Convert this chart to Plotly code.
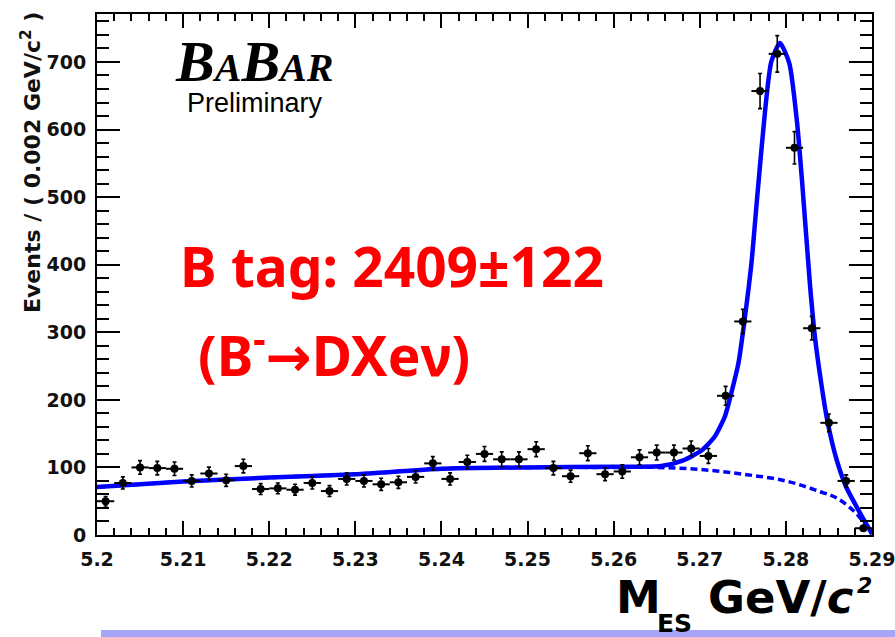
import plotly.graph_objects as go

# ---------------- data ----------------
bin_centers = [5.201, 5.203, 5.205, 5.207, 5.209, 5.211, 5.213, 5.215, 5.217, 5.219,
               5.221, 5.223, 5.225, 5.227, 5.229, 5.231, 5.233, 5.235, 5.237, 5.239,
               5.241, 5.243, 5.245, 5.247, 5.249, 5.251, 5.253, 5.255, 5.257, 5.259,
               5.261, 5.263, 5.265, 5.267, 5.269, 5.271, 5.273, 5.275, 5.277, 5.279,
               5.281, 5.283, 5.285, 5.287, 5.289]
events = [50, 77, 100, 99, 98, 80, 91, 81, 102, 68,
          69, 67, 77, 65, 83, 80, 75, 78, 86, 106,
          83, 108, 120, 112, 112, 127, 99, 87, 121, 90,
          94, 115, 122, 122, 128, 117, 206, 316, 657, 712,
          573, 306, 166, 80, 10]
event_errors = [7, 9, 10, 10, 10, 9, 9.5, 9, 10, 8,
                8, 8, 9, 8, 9, 9, 9, 9, 9, 10,
                9, 10, 11, 11, 11, 11, 10, 9, 11, 9.5,
                10, 11, 11, 11, 11, 11, 14, 18, 26, 27,
                24, 17.5, 13, 9, 3]
bin_half_width = [0.001] * len(bin_centers)

# background (ARGUS-like) curve
bkg_x = [5.200, 5.210, 5.220, 5.230, 5.240, 5.250, 5.260, 5.265, 5.270, 5.275,
         5.280, 5.284, 5.286, 5.288, 5.289, 5.290]
bkg_y = [71, 79, 85, 90, 98, 100, 100, 100, 97, 90,
         80, 64, 54, 34, 19, 1]

# total fit curve
fit_x = [5.200, 5.210, 5.220, 5.230, 5.240, 5.250, 5.260, 5.2655, 5.268, 5.2702,
         5.2717, 5.2729, 5.2737, 5.2745, 5.2752, 5.2760, 5.2766, 5.2776, 5.2783, 5.2793,
         5.2804, 5.2813, 5.2819, 5.2828, 5.2834, 5.2841, 5.2848, 5.2859, 5.2870, 5.2882,
         5.2893, 5.2900]
fit_y = [71, 79, 85, 90, 98, 100, 101, 102, 110, 125,
         145, 175, 212, 255, 318, 402, 490, 630, 700, 728,
         698, 610, 520, 370, 290, 225, 170, 111, 71, 42,
         17, 2]

# ---------------- layout geometry ----------------
W, H = 895, 637
L, R, T, B = 97, 872, 14, 535


def px(x):
    return (x - L) / (R - L)


def py(y):
    return (B - y) / (B - T)


fig = go.Figure()

fig.add_trace(go.Scatter(
    x=bkg_x, y=bkg_y, mode="lines", line=dict(color="#0000ff", width=3.5, dash="7px,4px", shape="spline"),
    hoverinfo="skip", showlegend=False))
fig.add_trace(go.Scatter(
    x=fit_x, y=fit_y, mode="lines", line=dict(color="#0000ff", width=4.5, shape="spline", smoothing=0.6),
    hoverinfo="skip", showlegend=False))
fig.add_trace(go.Scatter(
    x=bin_centers, y=events, mode="markers",
    marker=dict(color="black", size=8, symbol="circle"),
    error_y=dict(type="data", array=event_errors, color="black", thickness=1.6, width=2),
    error_x=dict(type="data", array=bin_half_width, color="black", thickness=2, width=0),
    showlegend=False))

tickfont = dict(family="DejaVu Sans", size=19, color="#111111", weight="bold")

fig.update_xaxes(
    range=[5.2 - 1e-7, 5.29 + 1e-7], tickmode="linear", tick0=5.2, dtick=0.01, tickformat=".2~f",
    ticks="inside", ticklen=14, tickwidth=2, tickcolor="black",
    showline=True, linewidth=2, linecolor="black", mirror="allticks",
    showgrid=False, zeroline=False, tickfont=tickfont, automargin=False,
    ticklabelstandoff=6, ticklabeloverflow="allow",
    minor=dict(tick0=5.2, dtick=0.002, ticks="inside", ticklen=7,
               tickwidth=1.5, tickcolor="black", showgrid=False))
fig.update_yaxes(
    range=[0, 771], tickmode="linear", tick0=0, dtick=100,
    ticks="inside", ticklen=23, tickwidth=2, tickcolor="black",
    showline=True, linewidth=2, linecolor="black", mirror="allticks",
    showgrid=False, zeroline=False, tickfont=tickfont, automargin=False,
    ticklabelstandoff=5, ticklabeloverflow="allow",
    minor=dict(tick0=0, dtick=20, ticks="inside", ticklen=12,
               tickwidth=1.5, tickcolor="black", showgrid=False))

ann = []
# BaBar logo
ann.append(dict(
    x=px(173), y=py(96), xref="paper", yref="paper", xanchor="left", yanchor="bottom",
    text="<b><i>B<span style='font-size:40px'>A</span>B<span style='font-size:40px'>AR</span></i></b>",
    font=dict(family="Liberation Serif", size=58, color="black"), showarrow=False))
ann.append(dict(
    x=px(185), y=py(120), xref="paper", yref="paper", xanchor="left", yanchor="bottom",
    text="Preliminary", font=dict(family="Liberation Sans", size=27, color="black"), showarrow=False))
# red labels
ann.append(dict(
    x=px(178), y=py(305), xref="paper", yref="paper", xanchor="left", yanchor="bottom",
    text="B tag: 2409±122", font=dict(family="Noto Sans", size=55, color="#ff0000", weight="bold"),
    showarrow=False))
ann.append(dict(
    x=px(196), y=py(394), xref="paper", yref="paper", xanchor="left", yanchor="bottom",
    text="(B<sup>-</sup><span style='font-family:DejaVu Sans'>→</span>DXeν)",
    font=dict(family="Noto Sans", size=55, color="#ff0000", weight="bold"),
    showarrow=False))
# y axis title
ann.append(dict(
    x=px(31), y=py(163), xref="paper", yref="paper", xanchor="center", yanchor="middle",
    textangle=-90, text="Events / ( 0.002 GeV/c<sup>2</sup> )",
    font=dict(family="DejaVu Sans", size=22, color="#111111", weight="bold"), showarrow=False))
# x axis title
ann.append(dict(
    x=px(614), y=py(626), xref="paper", yref="paper", xanchor="left", yanchor="bottom",
    text="M", font=dict(family="DejaVu Sans", size=45, color="black", weight="bold"), showarrow=False))
ann.append(dict(
    x=px(655), y=py(640), xref="paper", yref="paper", xanchor="left", yanchor="bottom",
    text="ES", font=dict(family="DejaVu Sans", size=25, color="black", weight="bold"), showarrow=False))
ann.append(dict(
    x=px(706), y=py(626), xref="paper", yref="paper", xanchor="left", yanchor="bottom",
    text="GeV/<i>c</i>",
    font=dict(family="DejaVu Sans", size=45, color="black", weight="bold"),
    showarrow=False))
ann.append(dict(
    x=px(855), y=py(571), xref="paper", yref="paper", xanchor="left", yanchor="top",
    text="<i>2</i>",
    font=dict(family="DejaVu Sans", size=22, color="black", weight="bold"),
    showarrow=False))

shapes = [dict(type="rect", xref="paper", yref="paper", x0=px(101), x1=px(895), y0=py(637), y1=py(630),
               fillcolor="#a6a6f6", line=dict(width=0), layer="below")]

fig.update_layout(
    width=W, height=H, autosize=False,
    margin=dict(l=L, r=W - R, t=T, b=H - B, pad=0, autoexpand=False),
    paper_bgcolor="white", plot_bgcolor="white",
    annotations=ann, shapes=shapes, showlegend=False)

fig.write_html("out.html")
